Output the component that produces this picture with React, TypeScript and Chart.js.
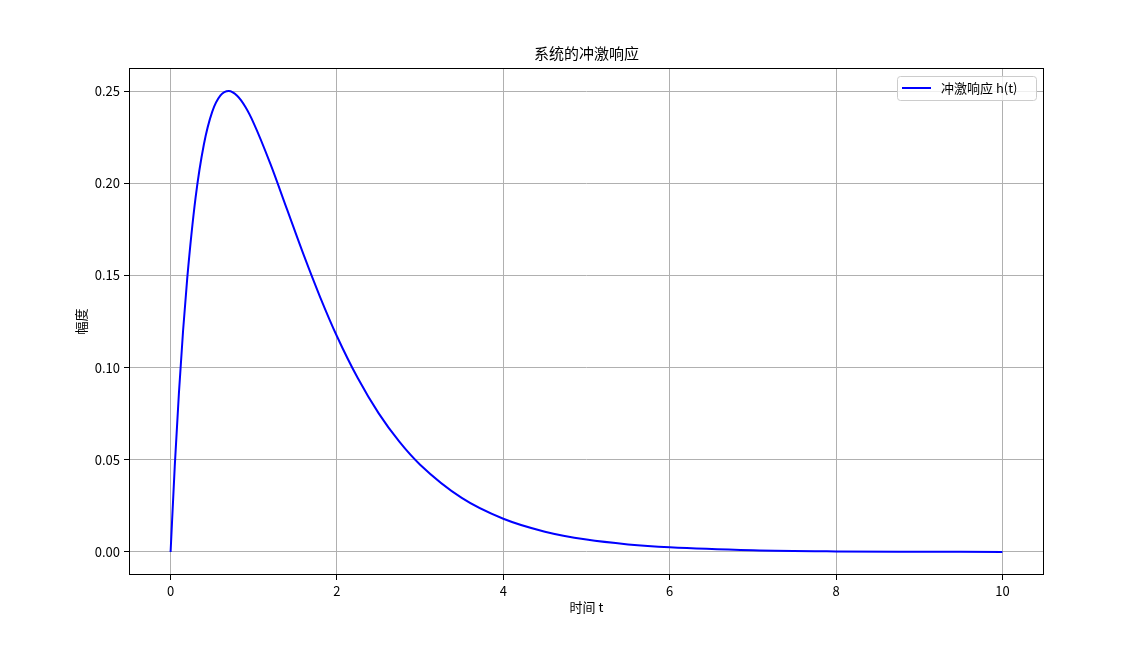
import React, { useEffect, useRef } from "react";
import { Chart, registerables } from "chart.js";

Chart.register(...registerables);

const timeValues = [0, 0.05, 0.1, 0.15, 0.2, 0.3, 0.4, 0.5, 0.6, 0.7, 0.8, 0.9, 1.0, 1.2, 1.4, 1.6, 1.8, 2.0, 2.25, 2.5, 2.75, 3.0, 3.5, 4.0, 4.5, 5.0, 5.5, 6.0, 7.0, 8.0, 9.0, 10.0];
const responseValues = [0, 0.0464, 0.0861, 0.12, 0.1484, 0.192, 0.221, 0.2387, 0.2476, 0.25, 0.2474, 0.2413, 0.2325, 0.2105, 0.1858, 0.1611, 0.138, 0.117, 0.0943, 0.0753, 0.0598, 0.0473, 0.0293, 0.018, 0.011, 0.0067, 0.0041, 0.0025, 0.0009, 0.0003, 0.0001, 0.0];
const xTickValues = [0, 2, 4, 6, 8, 10];
const yTickValues = [0, 0.05, 0.1, 0.15, 0.2, 0.25];

const titleText = "系统的冲激响应";
const xLabel = "时间 t";
const yLabel = "幅度";
const legendLabel = "冲激响应 h(t)";

const FONT = '"Noto Sans CJK SC", "DejaVu Sans", sans-serif';

export default function App() {
  const ref = useRef<HTMLCanvasElement>(null);
  useEffect(() => {
    document.body.style.margin = "0";
    const canvas = ref.current!;
    const decor = {
      id: "decor",
      afterDraw(chart: any) {
        const { ctx, chartArea: a } = chart;
        ctx.save();
        ctx.strokeStyle = "#000";
        ctx.lineWidth = 1;
        ctx.strokeRect(Math.round(a.left) + 0.5, Math.round(a.top) + 0.5, Math.round(a.right - a.left) - 1, Math.round(a.bottom - a.top) - 1);
        ctx.fillStyle = "#000";
        ctx.textAlign = "center";
        ctx.textBaseline = "middle";
        ctx.font = `15px ${FONT}`;
        ctx.fillText(titleText, (a.left + a.right) / 2, 53);
        ctx.font = `13px ${FONT}`;
        ctx.fillText(xLabel, (a.left + a.right) / 2, 607);
        ctx.save();
        ctx.translate(81, (a.top + a.bottom) / 2);
        ctx.rotate(-Math.PI / 2);
        ctx.fillText(yLabel, 0, 0);
        ctx.restore();
        // legend
        const lx = 897, ly = 76, lw = 139, lh = 24;
        ctx.beginPath();
        ctx.roundRect(lx + 0.5, ly + 0.5, lw, lh, 3);
        ctx.fillStyle = "rgba(255,255,255,0.8)";
        ctx.fill();
        ctx.strokeStyle = "#cccccc";
        ctx.lineWidth = 1;
        ctx.stroke();
        ctx.beginPath();
        ctx.moveTo(902, 88);
        ctx.lineTo(931, 88);
        ctx.strokeStyle = "#0000ff";
        ctx.lineWidth = 2;
        ctx.stroke();
        ctx.fillStyle = "#000";
        ctx.textAlign = "left";
        ctx.font = `13px ${FONT}`;
        ctx.fillText(legendLabel, 941, 88);
        ctx.restore();
      },
    };
    const chart = new Chart(canvas, {
      type: "scatter",
      data: {
        datasets: [
          {
            label: legendLabel,
            data: timeValues.map((t, i) => ({ x: t, y: responseValues[i] })),
            showLine: true,
            borderColor: "#0000ff",
            borderWidth: 2,
            pointRadius: 0,
            fill: false,
            cubicInterpolationMode: "monotone",
          },
        ],
      },
      options: {
        animation: false,
        responsive: false,
        layout: { padding: { left: 0, top: 68, right: 92, bottom: 0 } },
        plugins: { legend: { display: false }, title: { display: false }, tooltip: { enabled: false } },
        scales: {
          x: {
            type: "linear",
            min: -0.5,
            max: 10.5,
            afterBuildTicks: (s: any) => { s.ticks = xTickValues.map((v) => ({ value: v })); },
            afterFit: (s: any) => { s.height = 646 - 575; },
            grid: { color: "#b0b0b0", lineWidth: 1, tickColor: "#000", tickLength: 5, drawTicks: true },
            border: { display: false },
            ticks: { color: "#000", font: { family: FONT, size: 13 }, padding: 3, maxRotation: 0, callback: (v: any) => String(v) },
          },
          y: {
            type: "linear",
            min: -0.0125,
            max: 0.2625,
            afterBuildTicks: (s: any) => { s.ticks = yTickValues.map((v) => ({ value: v })); },
            afterFit: (s: any) => { s.width = 129; },
            grid: { color: "#b0b0b0", lineWidth: 1, tickColor: "#000", tickLength: 5, drawTicks: true },
            border: { display: false },
            ticks: { color: "#000", font: { family: FONT, size: 13 }, padding: 4, callback: (v: any) => Number(v).toFixed(2) },
          },
        },
      },
      plugins: [decor],
    } as any);
    return () => chart.destroy();
  }, []);
  return (
    <div style={{ position: "relative", width: 1136, height: 646, background: "#fff" }}>
      <canvas ref={ref} width={1136} height={646} style={{ width: 1136, height: 646, display: "block" }} />
    </div>
  );
}
